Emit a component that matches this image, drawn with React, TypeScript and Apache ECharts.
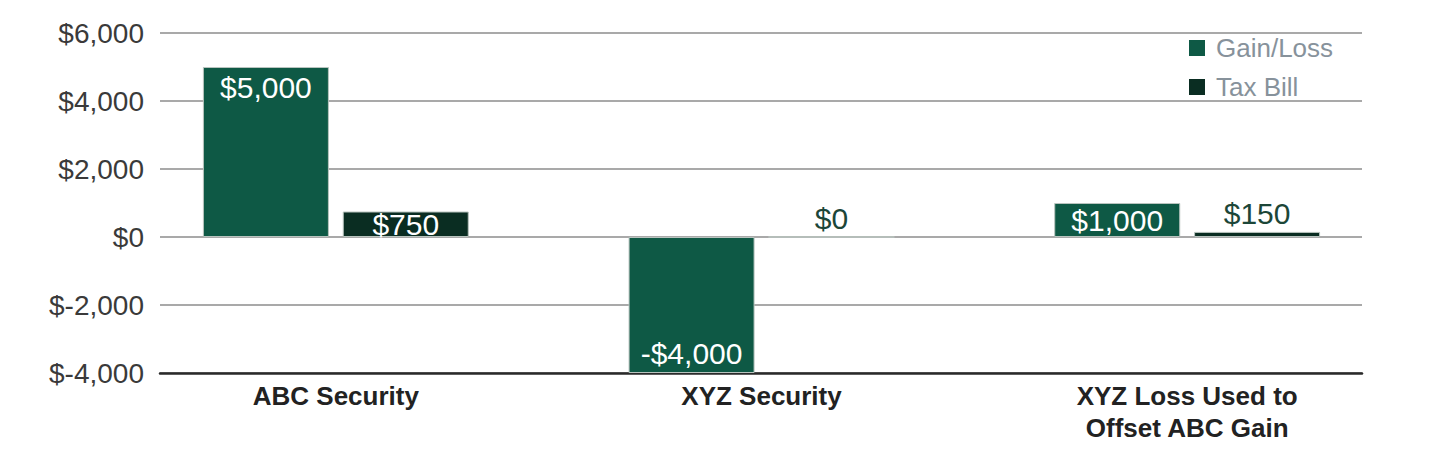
import React, { useEffect, useRef } from "react";
import * as echarts from "echarts";

const categories = ["ABC Security", "XYZ Security", "XYZ Loss Used to\nOffset ABC Gain"];
const gainLoss = [5000, -4000, 1000];
const taxBill = [750, 0, 150];
const yTicks = { min: -4000, max: 6000, interval: 2000 };
const seriesNames = ["Gain/Loss", "Tax Bill"];

const FONT = 'Arial, "Liberation Sans", Helvetica, sans-serif';
const C_GAIN = "#0e5945";
const C_TAX = "#0a2d22";

const money = (v: number) => (v < 0 ? "-$" : "$") + Math.abs(v).toLocaleString("en-US");

export default function App() {
  const ref = useRef<HTMLDivElement>(null);
  useEffect(() => {
    if (!ref.current) return;
    const chart = echarts.init(ref.current, undefined, { renderer: "svg" });
    const gainPos = ["insideTop", "insideBottom", "inside"];
    const taxPos = ["inside", "top", "top"];
    const taxColor = ["#ffffff", "#1c4638", "#1c4638"];
    chart.setOption({
      animation: false,
      backgroundColor: "#ffffff",
      textStyle: { fontFamily: FONT },
      legend: {
        orient: "vertical",
        left: 1189,
        top: 35,
        padding: 0,
        itemWidth: 16,
        itemHeight: 16,
        itemGap: 13,
        icon: "rect",
        itemStyle: { borderWidth: 0 },
        data: seriesNames,
        textStyle: { color: "#87929b", fontSize: 26, fontFamily: FONT, padding: [0, 0, 0, 6] },
      },
      grid: [
        { left: 160, right: 78, top: 33, bottom: 77 },
        { left: 123, right: 40, top: 33, bottom: 77 },
      ],
      xAxis: [
        {
          gridIndex: 0,
          type: "category",
          data: categories,
          axisLine: { show: true, onZero: false, lineStyle: { color: "#2a2a2a", width: 2.5 } },
          axisTick: { show: false },
          axisLabel: { show: false },
        },
        {
          gridIndex: 1,
          type: "category",
          data: categories,
          axisLine: { show: false },
          axisTick: { show: false },
          axisLabel: {
            show: true,
            margin: 7,
            fontSize: 26,
            fontWeight: "bold",
            color: "#222222",
            lineHeight: 32,
            fontFamily: FONT,
          },
        },
      ],
      yAxis: [
        {
          gridIndex: 0,
          type: "value",
          min: yTicks.min,
          max: yTicks.max,
          interval: yTicks.interval,
          axisLine: { show: false },
          axisTick: { show: false },
          axisLabel: {
            margin: 16,
            fontSize: 28,
            color: "#3a3a3a",
            fontFamily: FONT,
            formatter: (v: number) => "$" + v.toLocaleString("en-US"),
          },
          splitLine: { show: true, lineStyle: { color: "#8c8c8c", width: 1.5 } },
        },
        {
          gridIndex: 1,
          type: "value",
          min: yTicks.min,
          max: yTicks.max,
          interval: yTicks.interval,
          show: false,
          splitLine: { show: false },
        },
      ],
      series: [
        {
          name: seriesNames[0],
          type: "bar",
          xAxisIndex: 1,
          yAxisIndex: 1,
          barWidth: 126,
          barGap: "11%",
          itemStyle: { color: C_GAIN, borderColor: "#b9c4bf", borderWidth: 1 },
          data: gainLoss.map((v, i) => ({
            value: v,
            label: {
              show: true,
              position: gainPos[i],
              distance: 5,
              color: "#ffffff",
              fontSize: 30,
              fontFamily: FONT,
              formatter: () => money(v),
            },
          })),
        },
        {
          name: seriesNames[1],
          type: "bar",
          xAxisIndex: 1,
          yAxisIndex: 1,
          barWidth: 126,
          barGap: "11%",
          itemStyle: { color: C_TAX, borderColor: "#b9c4bf", borderWidth: 1 },
          data: taxBill.map((v, i) => ({
            value: v,
            label: {
              show: true,
              position: taxPos[i],
              distance: 3,
              color: taxColor[i],
              fontSize: 30,
              fontFamily: FONT,
              formatter: () => money(v),
            },
          })),
        },
      ],
    });
    return () => chart.dispose();
  }, []);
  return (
    <div
      ref={ref}
      style={{ position: "fixed", left: 0, top: 0, width: 1440, height: 450, background: "#fff" }}
    />
  );
}
